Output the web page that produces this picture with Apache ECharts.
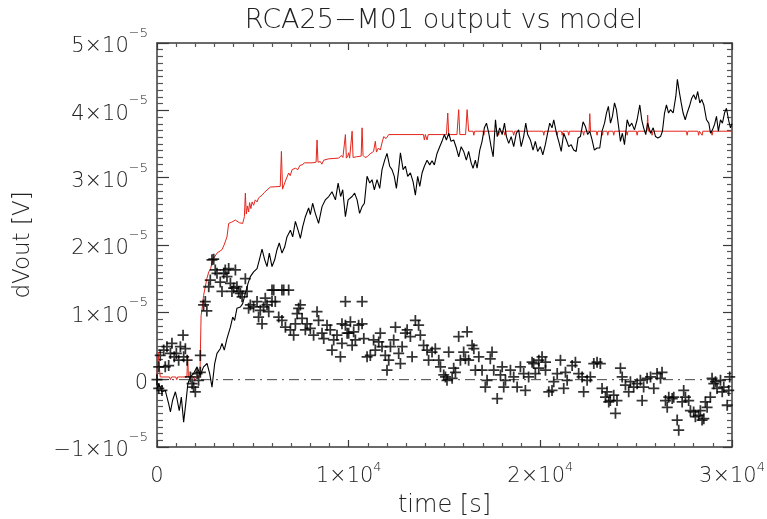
<!DOCTYPE html>
<html><head><meta charset="utf-8">
<script src="https://cdn.jsdelivr.net/npm/echarts@6/dist/echarts.min.js"></script>
<style>html,body{margin:0;padding:0;background:#fff}#c{width:767px;height:519px}</style>
</head><body><div id="c"></div>
<script>
const titleText = 'RCA25\u2212M01 output vs model';
const xAxisName = 'time [s]';
const yAxisName = 'dVout [V]';
// tick values: time in s, voltage in microvolts
const xTicks = [0, 10000, 20000, 30000];
const xTickLabels = [['0',''], ['1\u00d710','4'], ['2\u00d710','4'], ['3\u00d710','4']];
const yTicks = [-10, 0, 10, 20, 30, 40, 50];
const yTickLabels = [['\u22121\u00d710','\u22125'], ['0',''], ['1\u00d710','\u22125'], ['2\u00d710','\u22125'], ['3\u00d710','\u22125'], ['4\u00d710','\u22125'], ['5\u00d710','\u22125']];

// model (red) [time s, dVout uV]
const modelLine = [[0,0.4],[40,0.4],[50,4.1],[150,4.1],[170,0.4],[650,0.4],[700,0.0],[760,0.4],[980,0.4],[1030,0.0],[1080,0.4],[1560,0.4],[1600,3.6],[1640,0.4],[1900,0.4],[1950,0.0],[2000,0.4],[2240,0.4],[2300,9.5],[2350,10.5],[2430,12.5],[2520,13.8],[2600,15.0],[2700,16.0],[2800,16.5],[2900,17.8],[3000,18.2],[3130,18.8],[3390,19.3],[3500,20.0],[3650,21.2],[3740,23.2],[3900,23.4],[4090,23.7],[4300,23.3],[4470,23.2],[4560,24.2],[4610,27.7],[4660,24.6],[4720,25.8],[4780,24.9],[4830,26.3],[4900,25.4],[4960,26.4],[5040,25.9],[5130,26.7],[5220,26.4],[5300,27.0],[5480,27.4],[5600,27.8],[5910,28.6],[6430,28.7],[6490,33.9],[6550,28.3],[6610,28.2],[6700,29.5],[6870,30.7],[6950,30.3],[7050,31.2],[7220,31.4],[7350,31.2],[7450,31.8],[7570,31.9],[7700,32.2],[8090,32.2],[8300,32.3],[8350,35.6],[8400,32.3],[8520,32.4],[8600,32.0],[8700,32.6],[8960,32.8],[9480,32.9],[9560,32.9],[9620,33.3],[9700,33.0],[9780,33.2],[9830,36.4],[9880,32.9],[9950,33.2],[10000,33.7],[10050,32.9],[10130,32.9],[10180,36.9],[10230,33.0],[10310,33.0],[10400,33.1],[10500,33.3],[10650,33.2],[10700,37.4],[10750,33.3],[10850,33.0],[10960,33.1],[11100,33.5],[11200,33.4],[11300,33.9],[11390,35.4],[11450,33.8],[11550,34.4],[11650,34.1],[11750,35.3],[11830,36.1],[11950,35.8],[12090,36.4],[13900,36.4],[13950,35.6],[14000,36.4],[14050,36.4],[14090,35.6],[14150,36.4],[14960,36.4],[15100,36.4],[15170,39.6],[15220,36.4],[15650,36.4],[15740,40.1],[15800,36.4],[16100,36.4],[16180,40.1],[16260,36.9],[16490,36.9],[16530,36.3],[16570,36.9],[17010,36.9],[17050,36.3],[17090,36.9],[17780,36.9],[17820,36.3],[17880,36.9],[18100,36.9],[18150,36.3],[18200,36.9],[18560,36.9],[18610,36.3],[18660,36.9],[20140,36.9],[20180,36.3],[20220,36.9],[20840,36.9],[20880,36.3],[20920,36.9],[21100,36.9],[21140,36.3],[21180,36.9],[21440,36.9],[21480,36.3],[21520,36.9],[22220,36.9],[22260,36.3],[22300,36.9],[22540,36.9],[22580,39.5],[22620,36.9],[22920,36.9],[22960,36.3],[23000,36.9],[23200,36.9],[23240,36.3],[23280,36.9],[23480,36.9],[23520,36.3],[23560,36.9],[23790,36.9],[23830,36.3],[23870,36.9],[24490,36.9],[24530,36.3],[24570,36.9],[25010,36.9],[25050,36.3],[25090,36.9],[25560,36.9],[25600,39.3],[25640,36.9],[25790,36.9],[25830,36.3],[25870,36.9],[27620,36.9],[27660,36.3],[27700,36.9],[28220,36.9],[28260,36.3],[28300,36.9],[28400,36.9],[28440,36.3],[28480,36.9],[28920,36.9],[28960,36.3],[29000,36.9],[30000,36.9]];

// measured output (black) [time s, dVout uV]
const outputLine = [[0,-1.3],[90,-0.6],[260,-1.8],[430,-1.6],[610,-3.6],[700,-4.8],[810,-3.1],[960,-1.8],[1040,-2.8],[1160,-4.6],[1270,-2.6],[1390,-6.3],[1510,-3.3],[1610,-0.6],[1740,0.4],[1910,0.9],[2090,1.9],[2260,0.7],[2430,1.9],[2610,2.4],[2750,0.9],[2870,-1.1],[3010,2.4],[3130,3.9],[3300,4.6],[3390,5.4],[3510,4.4],[3650,6.1],[3830,7.8],[3950,9.3],[4050,8.8],[4170,10.6],[4350,10.8],[4470,11.3],[4610,12.8],[4750,14.3],[4870,15.3],[5040,16.0],[5220,16.5],[5340,17.8],[5480,19.4],[5620,17.8],[5740,16.8],[5860,18.8],[6000,16.8],[6140,17.8],[6260,19.3],[6380,20.3],[6520,18.8],[6660,19.7],[6780,21.2],[6960,22.2],[7080,21.2],[7220,23.5],[7360,22.2],[7480,21.0],[7600,22.7],[7740,24.2],[7910,25.5],[8000,24.5],[8120,26.2],[8260,24.7],[8430,23.2],[8610,25.7],[8780,26.7],[8960,27.2],[9130,27.9],[9310,26.7],[9450,29.2],[9580,27.2],[9690,28.2],[9830,24.2],[9970,26.7],[10180,27.2],[10310,27.7],[10440,26.7],[10570,24.7],[10700,25.7],[10820,26.2],[10960,30.2],[11100,29.2],[11220,29.7],[11340,28.2],[11480,29.7],[11620,28.4],[11740,31.2],[11880,32.6],[12000,33.6],[12140,31.7],[12260,31.2],[12380,30.2],[12490,28.4],[12610,31.2],[12700,33.7],[12840,31.2],[12960,31.7],[13080,30.2],[13220,30.7],[13360,29.4],[13480,27.4],[13600,30.2],[13710,28.7],[13830,30.7],[13950,31.7],[14090,32.6],[14230,31.9],[14350,32.5],[14470,31.9],[14610,33.6],[14750,34.6],[14870,35.4],[14990,36.4],[15100,35.6],[15220,36.6],[15340,35.4],[15480,35.6],[15620,34.4],[15740,33.1],[15870,34.6],[16000,33.9],[16140,32.6],[16260,33.9],[16390,32.2],[16490,31.4],[16610,32.6],[16700,31.4],[16840,34.1],[16960,35.4],[17080,37.4],[17190,38.1],[17310,36.6],[17430,34.6],[17540,33.1],[17660,38.6],[17750,36.1],[17880,37.4],[18010,36.4],[18130,38.1],[18230,36.1],[18350,35.1],[18480,36.1],[18610,34.6],[18750,36.6],[18870,37.1],[19000,34.6],[19130,36.1],[19240,38.1],[19340,36.4],[19480,35.6],[19620,34.1],[19740,35.4],[19860,33.9],[20000,34.6],[20130,33.4],[20260,34.9],[20380,36.6],[20490,38.1],[20610,37.4],[20700,38.6],[20840,36.6],[20960,35.4],[21090,33.9],[21220,36.6],[21360,35.6],[21480,34.6],[21610,34.9],[21740,34.1],[21870,33.9],[21970,35.9],[22090,36.1],[22230,38.3],[22350,37.6],[22470,36.4],[22580,36.9],[22700,35.6],[22820,34.1],[22960,34.4],[23100,34.4],[23220,36.9],[23350,38.1],[23450,39.6],[23550,40.6],[23660,38.1],[23760,39.1],[23870,41.1],[23970,40.1],[24070,37.9],[24180,35.4],[24280,36.6],[24390,34.9],[24530,38.6],[24650,37.6],[24770,38.1],[24910,37.1],[25050,38.6],[25190,40.8],[25290,38.6],[25390,37.4],[25500,36.4],[25600,38.1],[25750,36.6],[25890,37.4],[26010,36.1],[26130,35.9],[26270,36.1],[26370,36.9],[26480,39.6],[26580,40.8],[26690,39.6],[26790,40.1],[26930,39.6],[27070,42.1],[27150,44.6],[27260,42.6],[27350,41.1],[27450,39.6],[27560,38.6],[27660,39.6],[27780,40.6],[27900,41.8],[28000,42.3],[28110,41.6],[28210,42.8],[28320,41.1],[28420,41.6],[28530,40.8],[28670,38.6],[28790,38.1],[28880,36.6],[28980,37.1],[29090,37.9],[29190,39.1],[29290,36.9],[29400,38.6],[29500,38.1],[29610,39.6],[29710,40.3],[29820,38.6],[29920,37.4],[30000,38.0]];

// residual points (+ markers) [time s, dVout uV]
const residualPoints = [[0,0],[90,1.9],[90,-1.3],[170,3.6],[260,-1.6],[350,4.4],[430,1.9],[520,4.9],[610,2.1],[700,3.9],[780,5.4],[900,3.4],[1010,3.9],[1130,2.9],[1220,4.9],[1360,6.6],[1390,3.4],[1480,4.6],[1570,2.9],[1740,0.4],[1830,-0.6],[1910,-1.1],[2000,-1.8],[2090,0.9],[2170,-0.1],[2260,1.1],[2260,3.6],[2430,11.1],[2520,11.6],[2600,10.2],[2700,13.8],[2780,14.8],[2870,17.8],[2960,17.9],[3040,16.3],[3130,15.8],[3300,14.5],[3390,13.1],[3480,15.8],[3560,16.3],[3650,15.3],[3740,16.5],[3830,14.3],[3910,13.1],[4000,13.6],[4090,16.3],[4170,13.8],[4260,13.1],[4350,12.8],[4440,12.3],[4610,15.0],[4700,13.1],[4780,10.6],[4870,11.1],[5040,10.8],[5220,11.6],[5300,9.3],[5390,10.3],[5480,8.3],[5560,10.8],[5650,12.1],[5740,11.1],[5830,10.1],[6000,11.6],[6000,13.3],[6090,13.3],[6170,11.6],[6350,9.3],[6520,8.8],[6520,13.3],[6610,13.3],[6700,7.8],[6870,13.3],[6960,7.4],[7130,6.6],[7220,8.3],[7310,9.8],[7390,10.6],[7480,11.1],[7570,9.1],[7740,7.4],[7830,8.3],[8000,7.6],[8170,6.6],[8350,10.1],[8430,8.8],[8610,6.9],[8700,6.1],[8870,8.1],[9040,7.4],[9130,4.4],[9220,5.9],[9390,6.6],[9570,3.4],[9650,5.4],[9650,8.3],[9830,11.6],[9830,8.1],[9920,6.9],[10000,6.9],[10090,8.6],[10180,5.1],[10260,7.1],[10350,5.9],[10520,8.1],[10700,11.6],[10700,8.3],[10790,6.1],[10960,3.4],[11130,3.6],[11300,5.9],[11390,4.4],[11570,5.6],[11650,6.9],[11740,4.9],[11910,3.6],[12000,1.4],[12090,2.9],[12180,4.9],[12350,5.9],[12440,7.8],[12610,3.9],[12700,2.4],[12790,4.9],[12960,6.9],[13050,7.4],[13220,6.4],[13310,3.4],[13480,8.8],[13650,8.1],[13740,6.6],[13910,5.1],[14090,4.4],[14170,2.9],[14350,4.1],[14520,4.6],[14700,2.9],[14790,1.9],[14960,0.7],[15050,0.4],[15130,-0.1],[15220,4.1],[15400,0.2],[15480,1.7],[15570,1.1],[15740,6.4],[15830,2.9],[16000,4.1],[16090,3.1],[16180,7.1],[16260,2.9],[16440,5.1],[16530,4.6],[16610,1.4],[16790,3.4],[16960,1.4],[17130,-1.1],[17220,-0.1],[17390,3.1],[17480,4.1],[17570,1.4],[17750,-2.8],[17920,0.7],[18010,1.9],[18090,-1.1],[18180,-0.1],[18440,1.4],[18610,0.4],[18790,-1.1],[18960,1.9],[19130,0.9],[19220,-1.6],[19390,0.4],[19570,2.6],[19650,2.4],[19740,0.9],[19920,1.7],[19920,2.9],[20090,3.4],[20270,2.6],[20270,1.4],[20440,-1.8],[20610,-1.6],[20700,-0.3],[20880,0.9],[21050,2.9],[21220,-1.3],[21310,1.1],[21400,-0.1],[21660,2.1],[21830,2.6],[22000,0.9],[22180,0.4],[22260,-1.8],[22440,-0.1],[22610,0.4],[22790,2.4],[22960,2.6],[23130,2.4],[23220,-1.3],[23400,-2.6],[23480,-1.8],[23570,-3.3],[23650,-3.1],[23830,-2.3],[23920,-5.0],[24000,-3.1],[24180,1.7],[24270,0.4],[24440,-0.8],[24610,-1.8],[24700,-0.3],[24870,-1.1],[25050,-0.6],[25220,-0.1],[25310,-3.1],[25390,-1.1],[25570,0.2],[25750,0.4],[25920,-1.3],[26090,0.9],[26270,0.2],[26350,1.1],[26530,-3.1],[26620,-4.1],[26700,-2.6],[26880,-2.8],[26960,-2.6],[27140,-6.0],[27220,-7.5],[27400,-3.3],[27480,-1.6],[27570,-2.6],[27740,-3.1],[27830,-4.6],[28000,-4.8],[28090,-5.5],[28260,-5.3],[28350,-4.6],[28440,-6.0],[28530,-5.8],[28610,-3.3],[28700,-4.1],[28870,-2.6],[28960,0.2],[29050,-0.6],[29140,-0.3],[29220,-1.3],[29400,-0.1],[29490,-1.8],[29570,-1.1],[29750,-3.8],[29830,-1.6],[29880,0.4]];

// zero reference line
const zeroLine = [[0,0],[30000,0]];

const FONT = 'DejaVu Sans';
const FW = 200;
const TXT = '#222';
const AX = '#3a3a3a';
const richX = {
  a: {fontFamily: FONT, fontWeight: FW, fontSize: 21, color: TXT, lineHeight: 32},
  s: {fontFamily: FONT, fontWeight: FW, fontSize: 13, color: TXT, lineHeight: 14, verticalAlign: 'top'}
};
const richY = {
  a: {fontFamily: FONT, fontWeight: FW, fontSize: 21, color: TXT, lineHeight: 32, padding: [8, 0, 0, 0]},
  s: {fontFamily: FONT, fontWeight: FW, fontSize: 13, color: TXT, lineHeight: 14, verticalAlign: 'top'}
};
function lab(ticks, labels) {
  return function (v) {
    const i = ticks.findIndex(t => Math.abs(t - v) < 1e-6);
    if (i < 0) return '';
    const l = labels[i];
    return l[1] ? '{a|' + l[0] + '}{s|' + l[1] + '}' : '{a|' + l[0] + '}';
  };
}
const toV = pts => pts.map(p => [p[0], p[1]]);

const plusPath = 'path://M4.2,0H5.8V4.2H10V5.8H5.8V10H4.2V5.8H0V4.2H4.2Z';

const baseX = {
  type: 'value', min: 0, max: 30000, interval: 10000,
  axisLine: {show: true, onZero: false, lineStyle: {color: AX, width: 1.5}},
  axisTick: {show: true, inside: true, length: 7, lineStyle: {color: AX, width: 1.2}},
  minorTick: {show: true, splitNumber: 10, length: 4, lineStyle: {color: '#555', width: 1.2}},
  splitLine: {show: false}
};
const baseY = {
  type: 'value', min: -10, max: 50, interval: 10,
  axisLine: {show: true, onZero: false, lineStyle: {color: AX, width: 1.5}},
  axisTick: {show: true, inside: true, length: 12, lineStyle: {color: AX, width: 1.2}},
  minorTick: {show: true, splitNumber: 10, length: 6, lineStyle: {color: '#555', width: 1.2}},
  splitLine: {show: false}
};

const chart = echarts.init(document.getElementById('c'), null, {renderer: 'canvas'});
chart.setOption({
  animation: false,
  backgroundColor: '#fff',
  grid: {left: 157, right: 35, top: 43, bottom: 72, containLabel: false, outerBoundsMode: 'none'},
  graphic: [{
    type: 'text', x: 444, y: 21,
    style: {text: titleText, textAlign: 'center', textVerticalAlign: 'middle',
      font: '200 27px "DejaVu Sans"', fill: TXT}
  }],
  xAxis: [
    Object.assign({}, baseX, {
      position: 'bottom',
      axisLabel: {show: true, margin: 14, formatter: lab(xTicks, xTickLabels), rich: richX},
      name: xAxisName, nameLocation: 'middle', nameGap: 47,
      nameTextStyle: {fontFamily: FONT, fontWeight: FW, fontSize: 24, color: TXT}
    }),
    Object.assign({}, baseX, {position: 'top', axisLabel: {show: false}})
  ],
  yAxis: [
    Object.assign({}, baseY, {
      position: 'left',
      axisLabel: {show: true, margin: 9, formatter: lab(yTicks, yTickLabels), rich: richY},
      name: yAxisName, nameLocation: 'middle', nameGap: 122, nameRotate: 90,
      nameTextStyle: {fontFamily: FONT, fontWeight: FW, fontSize: 23, color: TXT}
    }),
    Object.assign({}, baseY, {position: 'right',
      axisTick: {show: true, inside: true, length: 9, lineStyle: {color: AX, width: 1.2}},
      minorTick: {show: true, splitNumber: 10, length: 5, lineStyle: {color: '#555', width: 1.2}},
      axisLabel: {show: false}})
  ],
  series: [
    {type: 'line', data: toV(zeroLine), showSymbol: false, silent: true,
      lineStyle: {color: '#444', width: 1, type: [10, 5, 2, 5]}, z: 1},
    {type: 'line', data: toV(modelLine), showSymbol: false, silent: true,
      lineStyle: {color: '#e3261c', width: 1}, z: 2},
    {type: 'line', data: toV(outputLine), showSymbol: false, silent: true,
      lineStyle: {color: '#000', width: 1.1}, z: 3},
    {type: 'scatter', data: toV(residualPoints), symbol: plusPath, symbolSize: 11, silent: true,
      itemStyle: {color: '#000'}, z: 4}
  ]
});
</script></body></html>
